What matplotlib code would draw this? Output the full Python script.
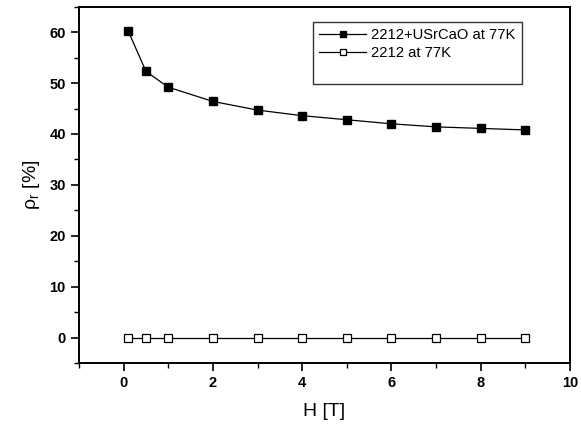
import matplotlib
matplotlib.use("Agg")
import matplotlib.pyplot as plt
from matplotlib.ticker import MultipleLocator

plt.rcParams['font.family'] = ['Liberation Sans', 'DejaVu Sans']
plt.rcParams['mathtext.fontset'] = 'custom'
plt.rcParams['mathtext.rm'] = 'Liberation Sans'

# field values [T] and resistivity ratio [%]
field = [0.1, 0.5, 1, 2, 3, 4, 5, 6, 7, 8, 9]
rho_doped = [60.3, 52.3, 49.2, 46.4, 44.7, 43.6, 42.8, 42.0, 41.4, 41.1, 40.8]
rho_pure = [0, 0, 0, 0, 0, 0, 0, 0, 0, 0, 0]
labels = ["2212+USrCaO at 77K", "2212 at 77K"]

fig = plt.figure(figsize=(5.81, 4.25), dpi=100)
ax = fig.add_axes([0.136, 0.146, 0.845, 0.838])

ax.plot(field, rho_doped, "k-", marker="s", ms=5.8, mfc="black", mec="black",
        lw=0.9, label=labels[0])
ax.plot(field, rho_pure, "k-", marker="s", ms=5.2, mfc="white", mec="black",
        mew=0.9, lw=0.9, label=labels[1])
# empty third row of the legend box
ax.plot([], [], " ", label=" ")

ax.set_xlim(-1, 10)
ax.set_ylim(-5, 65)
ax.xaxis.set_major_locator(MultipleLocator(2))
ax.xaxis.set_minor_locator(MultipleLocator(1))
ax.yaxis.set_major_locator(MultipleLocator(10))
ax.yaxis.set_minor_locator(MultipleLocator(5))
ax.tick_params(which="major", direction="out", length=6, width=1.2, labelsize=10.5)
ax.tick_params(which="minor", direction="out", length=3.5, width=1.0)
for lab in ax.get_xticklabels() + ax.get_yticklabels():
    lab.set_fontweight("bold")
for s in ax.spines.values():
    s.set_linewidth(1.4)

ax.set_xlabel("H [T]", fontsize=14, labelpad=9)
ax.set_ylabel(r"$\mathrm{\rho_r}$ [%]", fontsize=14, labelpad=5)

leg = ax.legend(loc="upper left", bbox_to_anchor=(0.476, 0.958), fontsize=10.6,
                frameon=True, fancybox=False, edgecolor="black",
                handlelength=3.2, handletextpad=0.3, borderpad=0.45,
                labelspacing=0.25, markerscale=0.8, borderaxespad=0)
leg.get_frame().set_linewidth(1.0)

fig.savefig("out.png", dpi=100)
